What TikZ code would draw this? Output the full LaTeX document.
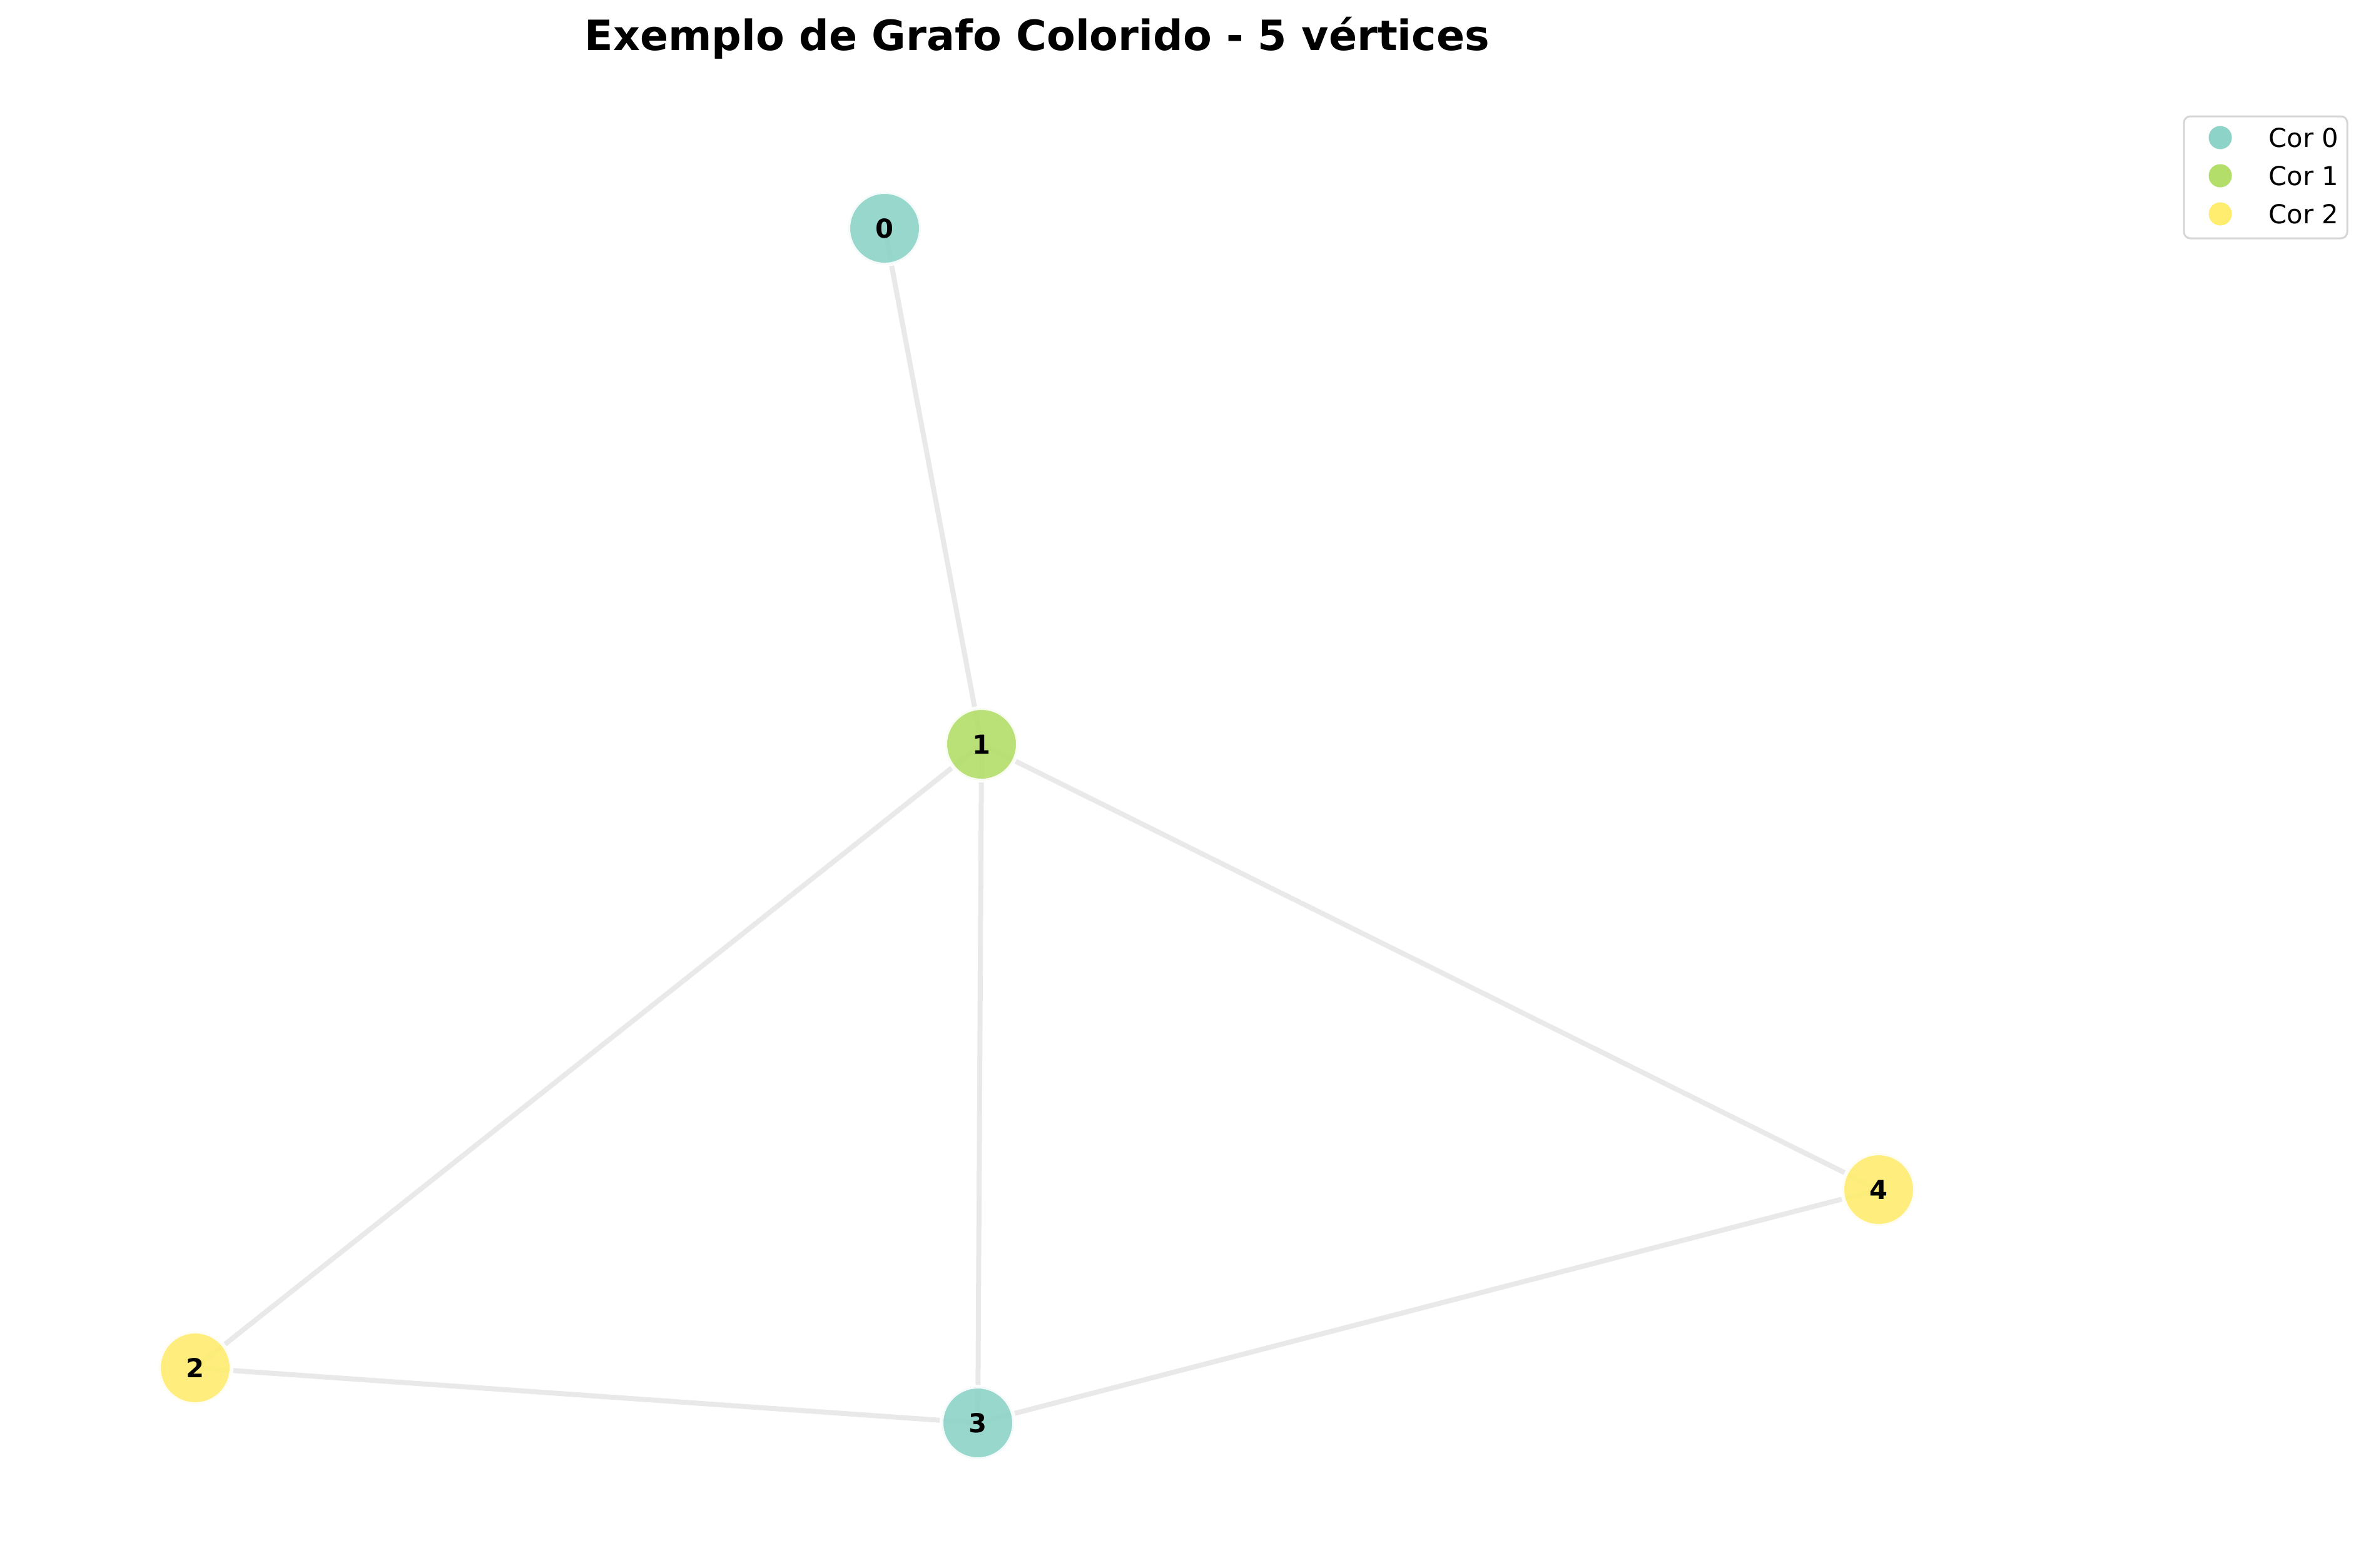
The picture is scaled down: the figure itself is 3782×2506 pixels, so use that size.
\documentclass[tikz,border=0pt]{standalone}
\usepackage{fontspec}
\setmainfont{DejaVu Sans}
\definecolor{cA}{HTML}{8DD3C7}
\definecolor{cB}{HTML}{B3DE69}
\definecolor{cC}{HTML}{FFED6F}
\definecolor{edgec}{HTML}{E9E9E9}
\definecolor{legedge}{HTML}{D6D6D6}
\begin{document}
\begin{tikzpicture}[x=0.24pt,y=-0.24pt,
  vert/.style={circle, minimum size=27.84pt, inner sep=0pt, line width=1.44pt,
    draw=white, fill opacity=0.9, draw opacity=0.9, text opacity=1,
    font=\fontsize{10}{12}\selectfont\bfseries},
  link/.style={draw=edgec, line width=1.92pt},
  legmark/.style={circle, minimum size=8.9pt, inner sep=0pt},
  legtext/.style={anchor=base west, inner sep=0pt, font=\fontsize{10}{12}\selectfont}]
\useasboundingbox[fill=white] (0,0) rectangle (3782,2506);
\node[anchor=base, inner sep=0pt, font=\fontsize{16}{19}\selectfont\bfseries] (title) at (1658,80) {Exemplo de Grafo Colorido - 5 vértices};
% vertex coordinates
\coordinate (p0) at (1414,365);
\coordinate (p1) at (1569,1190);
\coordinate (p2) at (312,2187);
\coordinate (p3) at (1563,2275);
\coordinate (p4) at (3003,1902);
% edges
\draw[link] (p0) -- (p1);
\draw[link] (p1) -- (p2);
\draw[link] (p1) -- (p3);
\draw[link] (p1) -- (p4);
\draw[link] (p2) -- (p3);
\draw[link] (p3) -- (p4);
% vertices
\node[vert, fill=cA] (v0) at (p0) {0};
\node[vert, fill=cB] (v1) at (p1) {1};
\node[vert, fill=cC] (v2) at (p2) {2};
\node[vert, fill=cA] (v3) at (p3) {3};
\node[vert, fill=cC] (v4) at (p4) {4};
% legend
\draw[legedge, line width=0.72pt, rounded corners=2.4pt, fill=white] (3491,186) rectangle (3752,381);
\node[legmark, fill=cA] (m0) at (3549,220) {};
\node[legmark, fill=cB] (m1) at (3549,281) {};
\node[legmark, fill=cC] (m2) at (3549,342) {};
\node[legtext] (t0) at (3626,235) {Cor 0};
\node[legtext] (t1) at (3626,296) {Cor 1};
\node[legtext] (t2) at (3626,357) {Cor 2};
\end{tikzpicture}
\end{document}
